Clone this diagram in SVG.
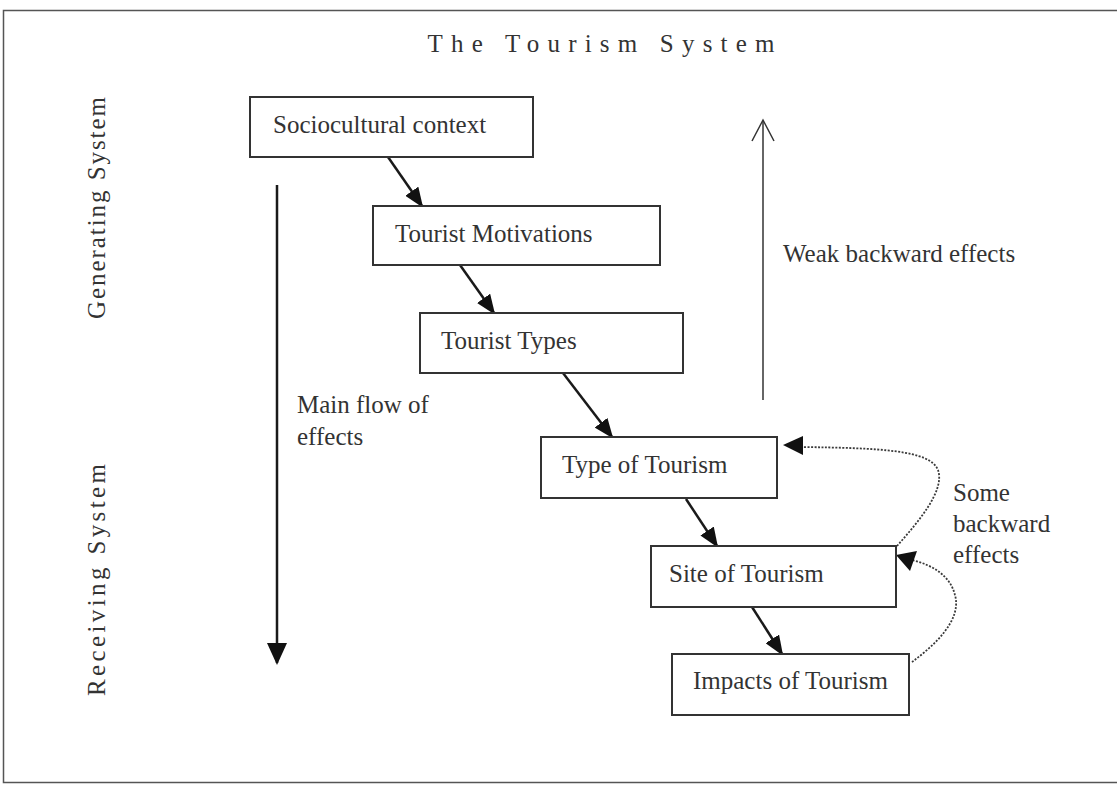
<svg xmlns="http://www.w3.org/2000/svg" width="1117" height="788" viewBox="0 0 1117 788">
<style>
text{font-family:"Liberation Serif","Times New Roman",serif;fill:#333;font-size:25px}
.box{fill:#fff;stroke:#333;stroke-width:2}
.flow{stroke:#1a1a1a;stroke-width:2.5;fill:none}
.dot{stroke:#3a3a3a;stroke-width:1.8;fill:none;stroke-dasharray:2 1.5}
</style>
<defs>
<marker id="ah" viewBox="0 0 20 16" refX="18" refY="8" markerWidth="20" markerHeight="16" markerUnits="userSpaceOnUse" orient="auto">
<path d="M0 0 L20 8 L0 16 Z" fill="#111"/>
</marker>
<marker id="ahBig" viewBox="0 0 22 20" refX="20" refY="10" markerWidth="22" markerHeight="20" markerUnits="userSpaceOnUse" orient="auto">
<path d="M0 0 L22 10 L0 20 Z" fill="#111"/>
</marker>
</defs>
<rect width="1117" height="788" fill="#fff"/>
<rect x="3.5" y="10.5" width="1120" height="772" fill="none" stroke="#555" stroke-width="1.5"/>
<text x="601" y="52" text-anchor="middle" font-size="27" textLength="347" lengthAdjust="spacing">The Tourism System</text>
<text transform="translate(105,208) rotate(-90)" text-anchor="middle" font-size="25" textLength="222" lengthAdjust="spacing">Generating System</text>
<text transform="translate(105,580) rotate(-90)" text-anchor="middle" font-size="25" textLength="232" lengthAdjust="spacing">Receiving System</text>

<g id="connectors">
<line class="flow" x1="388" y1="157" x2="422" y2="206" marker-end="url(#ah)"/>
<line class="flow" x1="460" y1="265" x2="494" y2="313" marker-end="url(#ah)"/>
<line class="flow" x1="563" y1="373" x2="612" y2="437" marker-end="url(#ah)"/>
<line class="flow" x1="686" y1="499" x2="717" y2="546" marker-end="url(#ah)"/>
<line class="flow" x1="752" y1="607" x2="782" y2="654" marker-end="url(#ah)"/>
<line class="flow" x1="277" y1="185" x2="277" y2="663" marker-end="url(#ahBig)"/>
<line x1="763" y1="400" x2="763" y2="121" stroke="#333" stroke-width="1.5"/>
<polyline points="752,141 763,120 774,141" fill="none" stroke="#333" stroke-width="1.5"/>
<path class="dot" d="M 897 546 C 920 520, 945 490, 938 470 C 930 450, 880 448, 800 447"/>
<path d="M783 445 L803 436 L803 455 Z" fill="#111"/>
<path class="dot" d="M 912 662 C 935 645, 962 620, 955 595 C 950 575, 932 565, 912 560"/>
<path d="M896 555 L917 551 L910 571 Z" fill="#111"/>
</g>

<g id="n-socio"><rect class="box" x="250" y="97" width="283" height="60"/><text x="273" y="133">Sociocultural context</text></g>
<g id="n-motiv"><rect class="box" x="373" y="206" width="287" height="59"/><text x="395" y="242">Tourist Motivations</text></g>
<g id="n-types"><rect class="box" x="420" y="313" width="263" height="60"/><text x="441" y="349">Tourist Types</text></g>
<g id="n-type"><rect class="box" x="541" y="437" width="236" height="61"/><text x="562" y="473">Type of Tourism</text></g>
<g id="n-site"><rect class="box" x="651" y="546" width="245" height="61"/><text x="669" y="582">Site of Tourism</text></g>
<g id="n-impacts"><rect class="box" x="672" y="654" width="237" height="61"/><text x="693" y="689">Impacts of Tourism</text></g>

<g id="labels">
<text x="297" y="413">Main flow of</text>
<text x="297" y="445">effects</text>
<text x="783" y="262">Weak backward effects</text>
<text x="953" y="501">Some</text>
<text x="953" y="532">backward</text>
<text x="953" y="563">effects</text>
</g>
</svg>
